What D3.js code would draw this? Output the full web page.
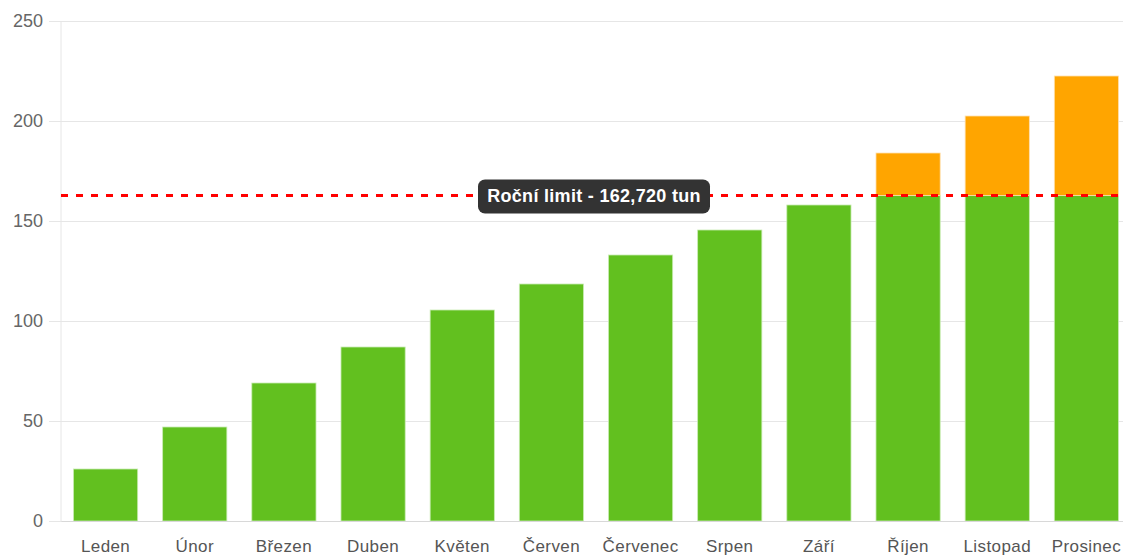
<!DOCTYPE html>
<html>
<head>
<meta charset="utf-8">
<script src="https://cdn.jsdelivr.net/npm/d3@7"></script>
<style>
    html, body { margin: 0; padding: 0; background: #fff; overflow: hidden; }
    svg { display: block; font-family: "Liberation Sans", Arial, sans-serif; }
</style>
</head>
<body>
<div id="chart"></div>
<script>
(function(d3) {
    'use strict';

    // Data
    var months = ['Leden', 'Únor', 'Březen', 'Duben', 'Květen', 'Červen',
        'Červenec', 'Srpen', 'Září', 'Říjen', 'Listopad', 'Prosinec'];
    var totals = [26, 47, 69, 87, 105.5, 118.5, 133, 145.5, 158, 184, 202.5, 222.5];
    var yTicks = [0, 50, 100, 150, 200, 250];
    var yearLimit = 162.72;
    var limitLabel = 'Roční limit - 162,720 tun';

    var width = 1123,
        height = 557;

    var margin = {top: 21, right: -8, bottom: 36, left: 61};
    var innerWidth = width - margin.left - margin.right,
        innerHeight = height - margin.top - margin.bottom;

    var svg = d3.select('#chart').append('svg')
        .attr('width', width)
        .attr('height', height);

    var chart = svg.append('g')
        .attr('transform', 'translate(' + margin.left + ',' + margin.top + ')');

    var x = d3.scaleBand()
        .domain(months)
        .range([0, innerWidth])
        .paddingInner(0.28)
        .paddingOuter(0.14);

    var y = d3.scaleLinear()
        .domain([0, 250])
        .range([innerHeight, 0]);

    // Gridlines + y axis
    var yAxis = d3.axisLeft(y)
        .tickValues(yTicks)
        .tickSize(-(innerWidth + 12))
        .tickPadding(6)
        .tickFormat(d3.format('d'));

    var yAxisG = chart.append('g')
        .attr('transform', 'translate(-12,0)')
        .call(yAxis);
    yAxisG.select('.domain').remove();
    yAxisG.selectAll('.tick line').attr('stroke', '#e6e6e6');
    yAxisG.selectAll('.tick text')
        .attr('fill', '#666')
        .attr('dy', '0.33em')
        .style('font-size', '18px');

    // Vertical axis line
    chart.append('line')
        .attr('x1', 0).attr('x2', 0)
        .attr('y1', 0).attr('y2', innerHeight)
        .attr('stroke', '#e6e6e6');

    // Bars: green up to the limit, orange above it
    var bars = chart.append('g').selectAll('g')
        .data(months.map(function(m, i) { return {month: m, value: totals[i]}; }))
        .enter().append('g');

    bars.append('rect')
        .attr('x', function(d) { return x(d.month); })
        .attr('width', x.bandwidth())
        .attr('y', function(d) { return y(Math.min(d.value, yearLimit)); })
        .attr('height', function(d) { return innerHeight - y(Math.min(d.value, yearLimit)); })
        .attr('fill', '#62c01f')
        .attr('stroke', '#c9ecb3')
        .attr('stroke-width', 0.8);

    bars.filter(function(d) { return d.value > yearLimit; })
        .append('rect')
        .attr('x', function(d) { return x(d.month); })
        .attr('width', x.bandwidth())
        .attr('y', function(d) { return y(d.value); })
        .attr('height', function(d) { return y(yearLimit) - y(d.value); })
        .attr('fill', '#ffa500')
        .attr('stroke', '#ffe0b0')
        .attr('stroke-width', 0.8);

    // X axis
    var xAxisG = chart.append('g')
        .attr('transform', 'translate(0,' + innerHeight + ')')
        .call(d3.axisBottom(x).tickSize(0).tickPadding(19));
    xAxisG.select('.domain').attr('stroke', '#d8d8d8');
    xAxisG.selectAll('.tick text')
        .attr('fill', '#555')
        .style('font-size', '17px')
        .style('letter-spacing', '0.4px');

    // Limit line
    chart.append('line')
        .attr('x1', 0).attr('x2', innerWidth)
        .attr('y1', y(yearLimit)).attr('y2', y(yearLimit))
        .attr('stroke', '#ff0000')
        .attr('stroke-width', 3)
        .attr('stroke-dasharray', '7,8');

    // Limit label
    var cx = innerWidth / 2 - 2;
    var label = chart.append('g')
        .attr('transform', 'translate(' + cx + ',' + y(yearLimit) + ')');
    label.append('rect')
        .attr('x', -116)
        .attr('y', -16)
        .attr('width', 232)
        .attr('height', 34)
        .attr('rx', 7)
        .attr('fill', '#333');
    label.append('text')
        .attr('text-anchor', 'middle')
        .attr('dy', '0.35em')
        .attr('fill', '#fff')
        .style('font-size', '18px')
        .style('font-weight', 'bold')
        .style('letter-spacing', '0.3px')
        .text(limitLabel);
}(d3));
</script>
</body>
</html>
